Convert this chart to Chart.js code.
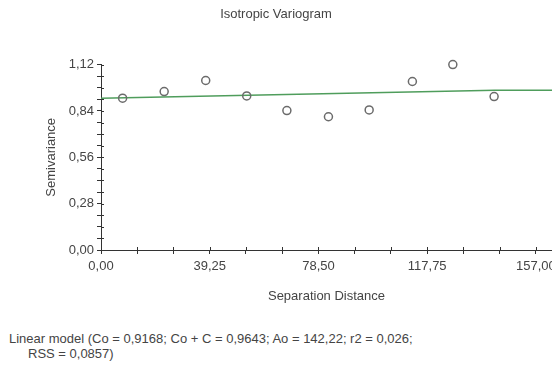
<!DOCTYPE html>
<html>
<head>
<meta charset="utf-8">
<script src="https://cdn.jsdelivr.net/npm/chart.js@4.4.1/dist/chart.umd.min.js"></script>
<style>
  html, body { margin: 0; padding: 0; background: #fff; }
  #wrap { position: relative; width: 552px; height: 372px; overflow: hidden; }
  #box { position: absolute; left: 0; top: 0; width: 600px; height: 310px; }
  #note { position: absolute; left: 9px; top: 331px; font: 13px "Liberation Sans", Arial, sans-serif; color: #444; line-height: 15px; white-space: nowrap; }
  #note div + div { padding-left: 19px; }
</style>
</head>
<body>
<div id="wrap">
  <div id="box"><canvas id="vario"></canvas></div>
  <div id="note">
    <div>Linear model (Co = 0,9168; Co + C = 0,9643; Ao = 142,22; r2 = 0,026;</div>
    <div>RSS = 0,0857)</div>
  </div>
</div>
<script>
// Experimental semivariance (lag distance / value)
const lagDist = [7.8, 22.8, 37.8, 52.6, 67.1, 82.1, 96.8, 112.4, 127.0, 141.9];
const semivar = [0.917, 0.957, 1.024, 0.931, 0.842, 0.805, 0.846, 1.018, 1.12, 0.927];

// Linear model with sill: nugget -> sill at range, then flat
const modelDist = [0, 142.22, 163];
const modelVal = [0.9168, 0.9643, 0.9643];

// labelled ticks, with minor ticks in between
const xTickLabels = ['0,00', '39,25', '78,50', '117,75', '157,00'];
const yTickLabels = ['0,00', '0,28', '0,56', '0,84', '1,12'];
const xMajor = 39.25, xMinorPer = 3;
const yMajor = 0.28, yMinorPer = 4;

function minorTicks(major, per, count) {
    const out = [];
    for (let i = 0; i <= (count - 1) * per; i++) out.push({ value: major * i / per });
    return out;
}

const font = { family: 'Liberation Sans', size: 13, weight: 'normal' };
const textCol = '#444';
const axisCol = '#333';

// ticks cross the axis line on both sides
const crossTicks = {
    id: 'crossTicks',
    afterDraw(chart) {
        const ctx = chart.ctx;
        const x = chart.scales.x, y = chart.scales.y;
        ctx.save();
        ctx.strokeStyle = axisCol;
        ctx.lineWidth = 1;
        ctx.beginPath();
        x.ticks.forEach(t => {
            const px = Math.round(x.getPixelForValue(t.value)) + 0.5;
            ctx.moveTo(px, y.bottom - 3);
            ctx.lineTo(px, y.bottom);
        });
        y.ticks.forEach(t => {
            const py = Math.round(y.getPixelForValue(t.value)) + 0.5;
            ctx.moveTo(x.left, py);
            ctx.lineTo(x.left + 3, py);
        });
        ctx.stroke();
        ctx.restore();
    }
};

const ctx = document.getElementById('vario').getContext('2d');
new Chart(ctx, {
    type: 'scatter',
    data: {
        datasets: [{
            label: 'Model',
            type: 'line',
            data: modelDist.map((d, i) => ({ x: d, y: modelVal[i] })),
            borderColor: '#4f9d5c',
            borderWidth: 1.5,
            pointRadius: 0,
            fill: false,
            order: 2
        }, {
            label: 'Semivariance',
            data: lagDist.map((d, i) => ({ x: d, y: semivar[i] })),
            pointStyle: 'circle',
            pointRadius: 4,
            pointBorderWidth: 1.5,
            pointBackgroundColor: 'rgba(0,0,0,0)',
            pointBorderColor: '#6b6b6b',
            clip: false,
            order: 1
        }]
    },
    options: {
        responsive: true,
        maintainAspectRatio: false,
        animation: false,
        layout: { padding: { left: 0, right: 48, top: 0, bottom: 0 } },
        plugins: {
            legend: { display: false },
            tooltip: { enabled: false },
            title: {
                display: true,
                text: 'Isotropic Variogram',
                color: textCol,
                font: font,
                padding: { top: 7, bottom: 42 }
            }
        },
        scales: {
            x: {
                type: 'linear',
                min: 0,
                max: 162.8,
                afterBuildTicks: s => { s.ticks = minorTicks(xMajor, xMinorPer, xTickLabels.length); },
                afterFit: s => { s.height = 60; },
                ticks: {
                    autoSkip: false,
                    maxRotation: 0,
                    color: textCol,
                    padding: 5,
                    font: font,
                    callback: (v, i) => (i % xMinorPer === 0 ? xTickLabels[i / xMinorPer] : '')
                },
                grid: { drawOnChartArea: false, tickLength: 4, color: axisCol },
                border: { color: axisCol, width: 1 },
                title: {
                    display: true,
                    text: 'Separation Distance',
                    color: textCol,
                    font: font,
                    padding: { top: 2, bottom: 6 }
                }
            },
            y: {
                type: 'linear',
                min: 0,
                max: 1.12,
                afterBuildTicks: s => { s.ticks = minorTicks(yMajor, yMinorPer, yTickLabels.length); },
                afterFit: s => { s.width = 101; },
                ticks: {
                    autoSkip: false,
                    color: textCol,
                    padding: 3,
                    font: font,
                    callback: (v, i) => (i % yMinorPer === 0 ? yTickLabels[i / yMinorPer] : '')
                },
                grid: { drawOnChartArea: false, tickLength: 4, color: axisCol },
                border: { color: axisCol, width: 1 },
                title: {
                    display: true,
                    text: 'Semivariance',
                    color: textCol,
                    font: font,
                    padding: { top: 44, bottom: 0 }
                }
            }
        }
    },
    plugins: [crossTicks]
});
</script>
</body>
</html>
